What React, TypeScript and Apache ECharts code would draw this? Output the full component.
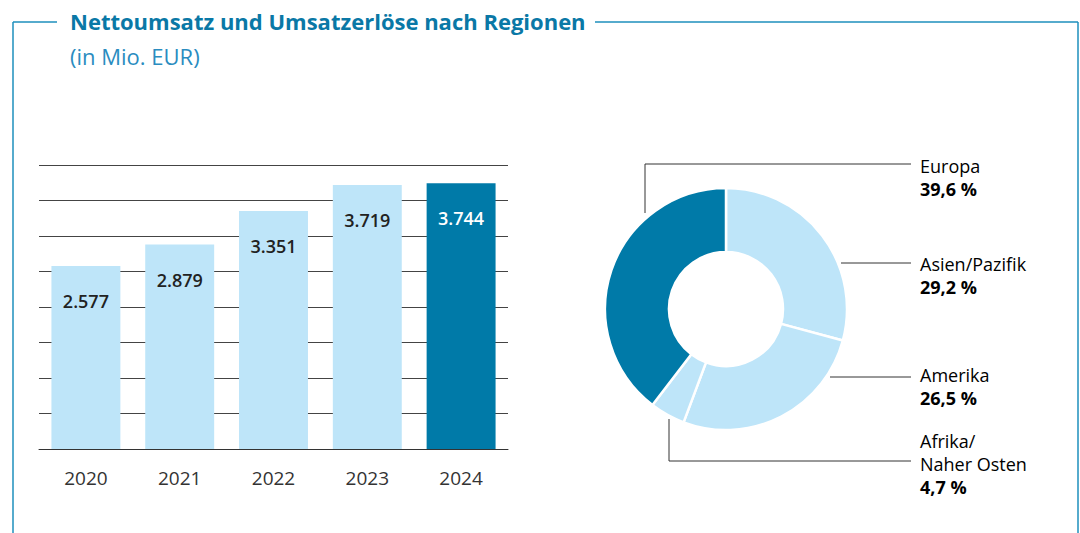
import React, { useEffect, useRef } from "react";
import * as echarts from "echarts";

const years = ["2020", "2021", "2022", "2023", "2024"];
const revenue = [2577, 2879, 3351, 3719, 3744];
const highlightYear = "2024";
const yMin = 0;
const yMax = 4000;
const yInterval = 500;

const regionNames = ["Asien/Pazifik", "Amerika", "Afrika/\nNaher Osten", "Europa"];
const regionShares = [29.2, 26.5, 4.7, 39.6];
const highlightRegion = "Europa";

const titleText = "Nettoumsatz und Umsatzerlöse nach Regionen";
const subtitleText = "(in Mio. EUR)";

const DARK = "#007aa8";
const LIGHT = "#bee5f9";
const FRAME = "#1e8fbd";
const FONT = "'Open Sans', 'Noto Sans', sans-serif";

const fmtThousands = (v: number) => v.toString().replace(/\B(?=(\d{3})+(?!\d))/g, ".");
const fmtPct = (v: number) => v.toFixed(1).replace(".", ",") + " %";

// label anchor layout (top y of text block) and leader lines, per region in regionNames order
const labelTops = [252, 363, 429, 154];
const leaderLines: number[][][] = [
  [[841, 263], [911, 263]],
  [[830, 377], [911, 377]],
  [[669, 419], [669, 461], [911, 461]],
  [[645, 213], [645, 164], [911, 164]],
];

export default function App() {
  const ref = useRef<HTMLDivElement>(null);
  useEffect(() => {
    if (!ref.current) return;
    const chart = echarts.init(ref.current, null, { renderer: "svg" });

    const graphic: any[] = [
      { type: "line", shape: { x1: 13, y1: 22, x2: 57, y2: 22 }, style: { stroke: FRAME, lineWidth: 1.5 } },
      { type: "line", shape: { x1: 595, y1: 22, x2: 1078, y2: 22 }, style: { stroke: FRAME, lineWidth: 1.5 } },
      { type: "line", shape: { x1: 13, y1: 22, x2: 13, y2: 533 }, style: { stroke: FRAME, lineWidth: 1.5 } },
      { type: "line", shape: { x1: 1078, y1: 22, x2: 1078, y2: 533 }, style: { stroke: FRAME, lineWidth: 1.5 } },
      {
        type: "text",
        x: 70,
        y: 21,
        style: { text: titleText, fill: "#0a78a6", font: `bold 22px ${FONT}`, textVerticalAlign: "middle" },
      },
      {
        type: "text",
        x: 70,
        y: 56,
        style: { text: subtitleText, fill: "#2a8cc0", font: `normal 22px ${FONT}`, textVerticalAlign: "middle" },
      },
    ];

    regionNames.forEach((name, i) => {
      graphic.push({
        type: "polyline",
        shape: { points: leaderLines[i] },
        style: { stroke: "#333", lineWidth: 1, fill: "none" },
      });
      const nameLines = name.split("\n").map((l) => `{n|${l}}`).join("\n");
      graphic.push({
        type: "text",
        x: 920,
        y: labelTops[i],
        style: {
          text: `${nameLines}\n{p|${fmtPct(regionShares[i])}}`,
          rich: {
            n: { fontFamily: FONT, fontSize: 18, fontWeight: "normal", color: "#333", lineHeight: 23 },
            p: { fontFamily: FONT, fontSize: 18, fontWeight: "bold", color: "#333", lineHeight: 23 },
          },
        },
      });
    });

    chart.setOption({
      animation: false,
      grid: { left: 39, right: 572, top: 165, bottom: 84 },
      xAxis: {
        type: "category",
        data: years,
        axisLine: { lineStyle: { color: "#333", width: 1 } },
        axisTick: { show: false },
        axisLabel: { color: "#333", fontFamily: FONT, fontSize: 19, margin: 19 },
      },
      yAxis: {
        type: "value",
        min: yMin,
        max: yMax,
        interval: yInterval,
        axisLabel: { show: false },
        axisLine: { show: false },
        axisTick: { show: false },
        splitLine: { lineStyle: { color: "#444", width: 1 } },
      },
      series: [
        {
          type: "bar",
          barWidth: "73.5%",
          data: years.map((y, i) => ({
            value: revenue[i],
            itemStyle: { color: y === highlightYear ? DARK : LIGHT },
            label: { color: y === highlightYear ? "#fff" : "#222" },
          })),
          label: {
            show: true,
            position: "insideTop",
            distance: 26,
            fontFamily: FONT,
            fontSize: 18,
            fontWeight: 600,
            formatter: (p: any) => fmtThousands(p.value),
          },
        },
        {
          type: "pie",
          center: [726, 309],
          radius: [57, 121],
          startAngle: 90,
          clockwise: true,
          label: { show: false },
          labelLine: { show: false },
          emphasis: { disabled: true },
          itemStyle: { borderColor: "#fff", borderWidth: 2.5 },
          data: regionNames.map((n, i) => ({
            name: n,
            value: regionShares[i],
            itemStyle: { color: n === highlightRegion ? DARK : LIGHT },
          })),
        },
      ],
      graphic,
    });
    return () => chart.dispose();
  }, []);
  return (
    <div
      ref={ref}
      style={{ position: "absolute", left: 0, top: 0, width: 1080, height: 533, background: "#fff" }}
    />
  );
}
